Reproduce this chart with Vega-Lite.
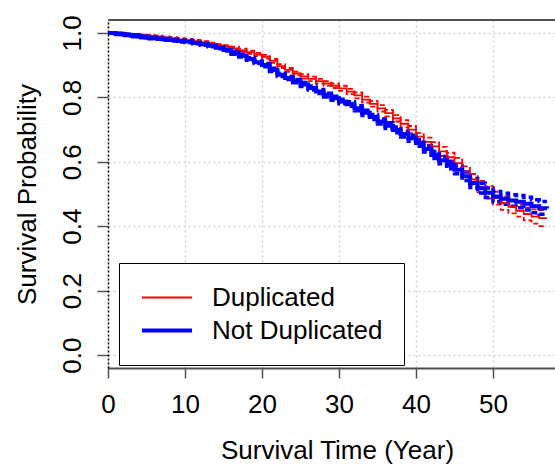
{
  "$schema": "https://vega.github.io/schema/vega-lite/v6.json",
  "width": 447,
  "height": 348,
  "autosize": {"type": "none"},
  "padding": {"left": 108, "top": 20, "right": 0, "bottom": 96},
  "background": "white",
  "config": {
    "view": {"stroke": null},
    "font": "Liberation Sans"
  },
  "datasets": {
    "km": [
      {"g":"Duplicated","t":0,"s":1.000,"lo":1.000,"hi":1.000},
      {"g":"Duplicated","t":1,"s":0.998,"lo":0.996,"hi":1.000},
      {"g":"Duplicated","t":2,"s":0.996,"lo":0.993,"hi":0.999},
      {"g":"Duplicated","t":3,"s":0.994,"lo":0.991,"hi":0.997},
      {"g":"Duplicated","t":4,"s":0.992,"lo":0.989,"hi":0.995},
      {"g":"Duplicated","t":5,"s":0.990,"lo":0.986,"hi":0.994},
      {"g":"Duplicated","t":6,"s":0.988,"lo":0.984,"hi":0.992},
      {"g":"Duplicated","t":7,"s":0.985,"lo":0.981,"hi":0.989},
      {"g":"Duplicated","t":8,"s":0.983,"lo":0.979,"hi":0.987},
      {"g":"Duplicated","t":9,"s":0.980,"lo":0.976,"hi":0.984},
      {"g":"Duplicated","t":10,"s":0.977,"lo":0.973,"hi":0.981},
      {"g":"Duplicated","t":11,"s":0.974,"lo":0.970,"hi":0.978},
      {"g":"Duplicated","t":12,"s":0.970,"lo":0.966,"hi":0.974},
      {"g":"Duplicated","t":13,"s":0.966,"lo":0.962,"hi":0.970},
      {"g":"Duplicated","t":14,"s":0.961,"lo":0.957,"hi":0.965},
      {"g":"Duplicated","t":15,"s":0.957,"lo":0.952,"hi":0.962},
      {"g":"Duplicated","t":16,"s":0.952,"lo":0.947,"hi":0.957},
      {"g":"Duplicated","t":17,"s":0.946,"lo":0.941,"hi":0.951},
      {"g":"Duplicated","t":18,"s":0.940,"lo":0.935,"hi":0.945},
      {"g":"Duplicated","t":19,"s":0.933,"lo":0.928,"hi":0.938},
      {"g":"Duplicated","t":20,"s":0.926,"lo":0.920,"hi":0.932},
      {"g":"Duplicated","t":21,"s":0.913,"lo":0.907,"hi":0.919},
      {"g":"Duplicated","t":22,"s":0.897,"lo":0.891,"hi":0.903},
      {"g":"Duplicated","t":23,"s":0.885,"lo":0.879,"hi":0.891},
      {"g":"Duplicated","t":24,"s":0.874,"lo":0.868,"hi":0.880},
      {"g":"Duplicated","t":25,"s":0.865,"lo":0.858,"hi":0.872},
      {"g":"Duplicated","t":26,"s":0.857,"lo":0.850,"hi":0.864},
      {"g":"Duplicated","t":27,"s":0.850,"lo":0.843,"hi":0.857},
      {"g":"Duplicated","t":28,"s":0.843,"lo":0.836,"hi":0.850},
      {"g":"Duplicated","t":29,"s":0.836,"lo":0.829,"hi":0.843},
      {"g":"Duplicated","t":30,"s":0.828,"lo":0.820,"hi":0.836},
      {"g":"Duplicated","t":31,"s":0.818,"lo":0.810,"hi":0.826},
      {"g":"Duplicated","t":32,"s":0.806,"lo":0.797,"hi":0.815},
      {"g":"Duplicated","t":33,"s":0.793,"lo":0.784,"hi":0.802},
      {"g":"Duplicated","t":34,"s":0.780,"lo":0.771,"hi":0.789},
      {"g":"Duplicated","t":35,"s":0.766,"lo":0.756,"hi":0.776},
      {"g":"Duplicated","t":36,"s":0.751,"lo":0.741,"hi":0.761},
      {"g":"Duplicated","t":37,"s":0.735,"lo":0.725,"hi":0.745},
      {"g":"Duplicated","t":38,"s":0.718,"lo":0.707,"hi":0.729},
      {"g":"Duplicated","t":39,"s":0.700,"lo":0.689,"hi":0.711},
      {"g":"Duplicated","t":40,"s":0.678,"lo":0.666,"hi":0.690},
      {"g":"Duplicated","t":41,"s":0.662,"lo":0.649,"hi":0.675},
      {"g":"Duplicated","t":42,"s":0.648,"lo":0.635,"hi":0.661},
      {"g":"Duplicated","t":43,"s":0.632,"lo":0.618,"hi":0.646},
      {"g":"Duplicated","t":44,"s":0.614,"lo":0.600,"hi":0.628},
      {"g":"Duplicated","t":45,"s":0.596,"lo":0.580,"hi":0.612},
      {"g":"Duplicated","t":46,"s":0.570,"lo":0.554,"hi":0.586},
      {"g":"Duplicated","t":47,"s":0.545,"lo":0.528,"hi":0.562},
      {"g":"Duplicated","t":48,"s":0.523,"lo":0.505,"hi":0.541},
      {"g":"Duplicated","t":49,"s":0.505,"lo":0.486,"hi":0.524},
      {"g":"Duplicated","t":50,"s":0.487,"lo":0.467,"hi":0.507},
      {"g":"Duplicated","t":51,"s":0.472,"lo":0.451,"hi":0.493},
      {"g":"Duplicated","t":52,"s":0.460,"lo":0.440,"hi":0.480},
      {"g":"Duplicated","t":53,"s":0.448,"lo":0.430,"hi":0.466},
      {"g":"Duplicated","t":54,"s":0.438,"lo":0.418,"hi":0.458},
      {"g":"Duplicated","t":55,"s":0.430,"lo":0.408,"hi":0.452},
      {"g":"Duplicated","t":56,"s":0.425,"lo":0.400,"hi":0.450},
      {"g":"Duplicated","t":57,"s":0.425,"lo":0.400,"hi":0.450},
      {"g":"Not Duplicated","t":0,"s":1.000,"lo":1.000,"hi":1.000},
      {"g":"Not Duplicated","t":1,"s":0.997,"lo":0.995,"hi":0.999},
      {"g":"Not Duplicated","t":2,"s":0.994,"lo":0.992,"hi":0.996},
      {"g":"Not Duplicated","t":3,"s":0.991,"lo":0.988,"hi":0.994},
      {"g":"Not Duplicated","t":4,"s":0.988,"lo":0.985,"hi":0.991},
      {"g":"Not Duplicated","t":5,"s":0.985,"lo":0.982,"hi":0.988},
      {"g":"Not Duplicated","t":6,"s":0.983,"lo":0.980,"hi":0.986},
      {"g":"Not Duplicated","t":7,"s":0.980,"lo":0.977,"hi":0.983},
      {"g":"Not Duplicated","t":8,"s":0.978,"lo":0.975,"hi":0.981},
      {"g":"Not Duplicated","t":9,"s":0.975,"lo":0.972,"hi":0.978},
      {"g":"Not Duplicated","t":10,"s":0.973,"lo":0.970,"hi":0.976},
      {"g":"Not Duplicated","t":11,"s":0.969,"lo":0.966,"hi":0.972},
      {"g":"Not Duplicated","t":12,"s":0.965,"lo":0.962,"hi":0.968},
      {"g":"Not Duplicated","t":13,"s":0.960,"lo":0.957,"hi":0.963},
      {"g":"Not Duplicated","t":14,"s":0.954,"lo":0.951,"hi":0.957},
      {"g":"Not Duplicated","t":15,"s":0.947,"lo":0.944,"hi":0.950},
      {"g":"Not Duplicated","t":16,"s":0.938,"lo":0.934,"hi":0.942},
      {"g":"Not Duplicated","t":17,"s":0.929,"lo":0.925,"hi":0.933},
      {"g":"Not Duplicated","t":18,"s":0.919,"lo":0.915,"hi":0.923},
      {"g":"Not Duplicated","t":19,"s":0.909,"lo":0.905,"hi":0.913},
      {"g":"Not Duplicated","t":20,"s":0.900,"lo":0.895,"hi":0.905},
      {"g":"Not Duplicated","t":21,"s":0.885,"lo":0.880,"hi":0.890},
      {"g":"Not Duplicated","t":22,"s":0.870,"lo":0.865,"hi":0.875},
      {"g":"Not Duplicated","t":23,"s":0.860,"lo":0.855,"hi":0.865},
      {"g":"Not Duplicated","t":24,"s":0.850,"lo":0.845,"hi":0.855},
      {"g":"Not Duplicated","t":25,"s":0.840,"lo":0.834,"hi":0.846},
      {"g":"Not Duplicated","t":26,"s":0.829,"lo":0.823,"hi":0.835},
      {"g":"Not Duplicated","t":27,"s":0.818,"lo":0.812,"hi":0.824},
      {"g":"Not Duplicated","t":28,"s":0.807,"lo":0.801,"hi":0.813},
      {"g":"Not Duplicated","t":29,"s":0.797,"lo":0.791,"hi":0.803},
      {"g":"Not Duplicated","t":30,"s":0.787,"lo":0.780,"hi":0.794},
      {"g":"Not Duplicated","t":31,"s":0.779,"lo":0.772,"hi":0.786},
      {"g":"Not Duplicated","t":32,"s":0.766,"lo":0.758,"hi":0.774},
      {"g":"Not Duplicated","t":33,"s":0.752,"lo":0.744,"hi":0.760},
      {"g":"Not Duplicated","t":34,"s":0.739,"lo":0.731,"hi":0.747},
      {"g":"Not Duplicated","t":35,"s":0.725,"lo":0.717,"hi":0.733},
      {"g":"Not Duplicated","t":36,"s":0.712,"lo":0.703,"hi":0.721},
      {"g":"Not Duplicated","t":37,"s":0.699,"lo":0.690,"hi":0.708},
      {"g":"Not Duplicated","t":38,"s":0.686,"lo":0.677,"hi":0.695},
      {"g":"Not Duplicated","t":39,"s":0.673,"lo":0.664,"hi":0.682},
      {"g":"Not Duplicated","t":40,"s":0.658,"lo":0.648,"hi":0.668},
      {"g":"Not Duplicated","t":41,"s":0.640,"lo":0.630,"hi":0.650},
      {"g":"Not Duplicated","t":42,"s":0.621,"lo":0.610,"hi":0.632},
      {"g":"Not Duplicated","t":43,"s":0.605,"lo":0.594,"hi":0.616},
      {"g":"Not Duplicated","t":44,"s":0.590,"lo":0.578,"hi":0.602},
      {"g":"Not Duplicated","t":45,"s":0.575,"lo":0.563,"hi":0.587},
      {"g":"Not Duplicated","t":46,"s":0.555,"lo":0.542,"hi":0.568},
      {"g":"Not Duplicated","t":47,"s":0.534,"lo":0.520,"hi":0.548},
      {"g":"Not Duplicated","t":48,"s":0.518,"lo":0.503,"hi":0.533},
      {"g":"Not Duplicated","t":49,"s":0.504,"lo":0.489,"hi":0.519},
      {"g":"Not Duplicated","t":50,"s":0.492,"lo":0.476,"hi":0.508},
      {"g":"Not Duplicated","t":51,"s":0.485,"lo":0.468,"hi":0.502},
      {"g":"Not Duplicated","t":52,"s":0.480,"lo":0.462,"hi":0.498},
      {"g":"Not Duplicated","t":53,"s":0.476,"lo":0.457,"hi":0.495},
      {"g":"Not Duplicated","t":54,"s":0.470,"lo":0.450,"hi":0.490},
      {"g":"Not Duplicated","t":55,"s":0.462,"lo":0.442,"hi":0.482},
      {"g":"Not Duplicated","t":56,"s":0.456,"lo":0.437,"hi":0.477},
      {"g":"Not Duplicated","t":57,"s":0.455,"lo":0.437,"hi":0.477}
    ]
  },
  "data": {"name": "km"},
  "layer": [
    {
      "data": {"values": [{"top": 1.04}]},
      "mark": {"type": "rule", "color": "#505050", "strokeWidth": 2},
      "encoding": {"y": {"field": "top", "type": "quantitative", "title": "Survival Probability"}}
    },
    {
      "transform": [
        {"filter": "datum.g === 'Duplicated'"},
        {"fold": ["lo", "hi"], "as": ["k", "v"]}
      ],
      "mark": {"type": "line", "interpolate": "step-after", "color": "#ff0000", "strokeWidth": 1.8, "strokeDash": [5, 3]},
      "encoding": {
        "x": {"field": "t", "type": "quantitative", "title": "Survival Time (Year)"},
        "y": {"field": "v", "type": "quantitative", "title": "Survival Probability"},
        "detail": {"field": "k", "type": "nominal"}
      }
    },
    {
      "transform": [
        {"filter": "datum.g === 'Not Duplicated'"},
        {"fold": ["lo", "hi"], "as": ["k", "v"]}
      ],
      "mark": {"type": "line", "interpolate": "step-after", "color": "#0000ff", "strokeWidth": 3.5, "strokeDash": [6, 3]},
      "encoding": {
        "x": {"field": "t", "type": "quantitative", "title": "Survival Time (Year)"},
        "y": {"field": "v", "type": "quantitative", "title": "Survival Probability"},
        "detail": {"field": "k", "type": "nominal"}
      }
    },
    {
      "mark": {"type": "line", "interpolate": "step-after"},
      "encoding": {
        "x": {
          "field": "t", "type": "quantitative",
          "scale": {"domain": [0, 58.05], "nice": false, "zero": false},
          "title": "Survival Time (Year)",
          "axis": {
            "values": [0, 10, 20, 30, 40, 50],
            "grid": true, "gridColor": "#d3d3d3", "gridDash": [2, 3], "gridWidth": 1.5,
            "domainColor": "#505050", "domainWidth": 2,
            "tickColor": "#505050", "tickSize": 10, "tickWidth": 1.5,
            "labelFontSize": 26, "labelColor": "black", "labelPadding": 13,
            "labelFlush": false, "labelOverlap": false,
            "titleFontSize": 26, "titleFontWeight": "normal", "titleColor": "black",
            "titleX": 229, "titleY": 90, "titleBaseline": "alphabetic", "titleAlign": "center"
          }
        },
        "y": {
          "field": "s", "type": "quantitative",
          "scale": {"domain": [-0.04, 1.04], "nice": false, "zero": false},
          "title": "Survival Probability",
          "axis": {
            "values": [0, 0.2, 0.4, 0.6, 0.8, 1.0],
            "format": ".1f",
            "grid": true, "gridColor": "#d3d3d3", "gridDash": [2, 3], "gridWidth": 1.5,
            "domainColor": "black", "domainWidth": 1.5, "domainDash": [2, 2],
            "tickColor": "#505050", "tickSize": 11, "tickWidth": 1.5,
            "labelFontSize": 26, "labelColor": "black", "labelAngle": 270,
            "labelAlign": "center", "labelBaseline": "alphabetic", "labelPadding": 17,
            "labelFlush": false, "labelOverlap": false,
            "titleFontSize": 26, "titleFontWeight": "normal", "titleColor": "black",
            "titleAngle": 270, "titleX": -73, "titleY": 174,
            "titleBaseline": "alphabetic", "titleAlign": "center"
          }
        },
        "color": {
          "field": "g", "type": "nominal",
          "scale": {"domain": ["Duplicated", "Not Duplicated"], "range": ["#ff0000", "#0000ff"]},
          "legend": {
            "title": null, "orient": "none", "legendX": 11, "legendY": 243,
            "padding": 21, "strokeColor": "black", "fillColor": "white",
            "symbolType": "M-1,0H3", "symbolSize": 625,
            "labelFontSize": 26, "labelColor": "black", "labelOffset": 43, "rowPadding": 5,
            "labelLimit": 400
          }
        },
        "strokeWidth": {
          "field": "g", "type": "nominal",
          "scale": {"domain": ["Duplicated", "Not Duplicated"], "range": [1.8, 4]},
          "legend": {
            "title": null, "orient": "none", "legendX": 11, "legendY": 243,
            "padding": 21, "strokeColor": "black", "fillColor": "white",
            "symbolType": "M-1,0H3", "symbolSize": 625,
            "labelFontSize": 26, "labelColor": "black", "labelOffset": 43, "rowPadding": 5,
            "labelLimit": 400
          }
        }
      }
    }
  ]
}
